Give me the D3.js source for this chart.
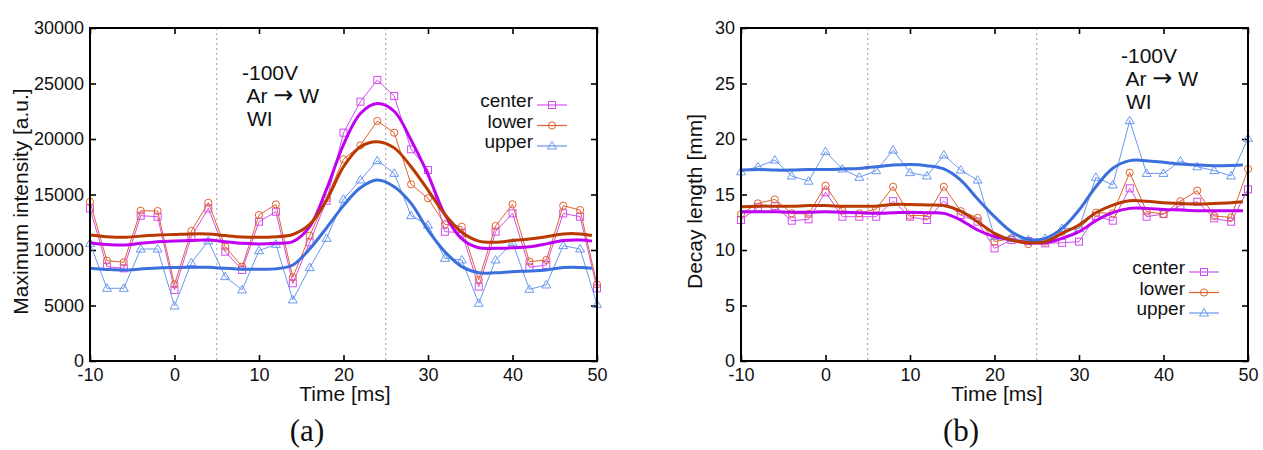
<!DOCTYPE html>
<html>
<head>
<meta charset="utf-8">
<script src="https://cdn.jsdelivr.net/npm/d3@7"></script>
<style>
    body { margin: 0; background: #fff; }
    svg text { font-family: "Liberation Sans", Arial, sans-serif; fill: #111; }
</style>
</head>
<body>
<div id="chart"></div>
<script>
// measurement times [ms]
var times = [-10, -8, -6, -4, -2, 0, 2, 4, 6, 8, 10, 12, 14, 16, 18, 20, 22, 24, 26, 28, 30, 32, 34, 36, 38, 40, 42, 44, 46, 48, 50];
// times where the smooth fit curves were read
var fitTimes = [-10, -8, -6, -4, -2, 0, 2, 4, 6, 8, 10, 12, 14, 16, 18, 20, 22, 24, 26, 28, 30, 32, 34, 36, 38, 40, 42, 44, 46, 48, 49.4];

// (a) maximum intensity [a.u.]
var centerIntensity = [13750, 8500, 8350, 13090, 13000, 6400, 11200, 13750, 9850, 8200, 12550, 13450, 7000, 10690, 14440, 20570, 23360, 25320, 23870, 19070, 17210, 11650, 11560, 6700, 11650, 13300, 8440, 8650, 13300, 13000, 6550];
var lowerIntensity = [14350, 9040, 8890, 13540, 13510, 6900, 11710, 14260, 10300, 8500, 13150, 14110, 7540, 11290, 14650, 18170, 19430, 21620, 20570, 15920, 14660, 12310, 12100, 7300, 12160, 14120, 8950, 9100, 13990, 13600, 6900];
var upperIntensity = [10600, 6550, 6550, 10090, 10090, 4950, 8860, 10810, 7600, 6400, 9940, 10510, 5500, 8410, 11050, 14570, 16310, 18050, 16910, 13090, 12250, 9250, 9100, 5200, 9100, 10660, 6460, 6850, 10390, 10090, 5100];
var centerIntensityFit = [10660, 10500, 10450, 10600, 10750, 10800, 10850, 10900, 10750, 10600, 10550, 10600, 10750, 12100, 15500, 19500, 22300, 23200, 22500, 19900, 16800, 13200, 11000, 10200, 10150, 10200, 10300, 10550, 10850, 10900, 10800];
var lowerIntensityFit = [11350, 11200, 11140, 11250, 11350, 11400, 11450, 11440, 11300, 11180, 11140, 11200, 11400, 12300, 14500, 17500, 19300, 19760, 19200, 17500, 15400, 13200, 11600, 10800, 10700, 10850, 11000, 11200, 11450, 11450, 11300];
var upperIntensityFit = [8350, 8250, 8200, 8280, 8380, 8420, 8440, 8440, 8350, 8270, 8260, 8300, 8650, 10100, 12000, 14000, 15600, 16300, 15700, 14200, 11800, 9850, 8500, 7950, 7950, 8050, 8100, 8200, 8420, 8430, 8350];

// (b) decay length [mm]
var centerDecay = [12.7, 13.85, 13.96, 12.64, 12.76, 15.2, 13.0, 13.0, 13.0, 14.4, 13.0, 12.7, 14.4, 13.15, 12.55, 10.15, 10.9, 10.8, 10.6, 10.65, 10.75, 13.06, 12.64, 15.56, 13.0, 13.24, 14.0, 14.35, 12.85, 12.55, 15.47];
var lowerDecay = [13.24, 14.2, 14.56, 13.3, 13.24, 15.8, 13.54, 13.3, 13.7, 15.7, 13.1, 13.1, 15.7, 13.5, 12.9, 10.75, 11.05, 10.54, 10.75, 11.65, 11.95, 13.36, 13.3, 16.97, 13.45, 13.24, 14.4, 15.35, 13.06, 12.94, 17.3];
var upperDecay = [17.05, 17.5, 18.1, 16.67, 16.2, 18.86, 17.3, 16.55, 17.15, 19.0, 16.97, 16.67, 18.56, 17.2, 16.3, 11.2, 11.05, 10.9, 11.05, 11.95, 11.95, 16.55, 15.86, 21.65, 16.9, 16.9, 18.0, 17.5, 17.15, 16.67, 20.06];
var centerDecayFit = [13.45, 13.45, 13.45, 13.4, 13.4, 13.45, 13.4, 13.35, 13.3, 13.35, 13.4, 13.35, 13.3, 12.7, 11.8, 11.2, 10.9, 10.66, 10.66, 11.05, 11.65, 12.64, 13.36, 13.75, 13.75, 13.66, 13.6, 13.54, 13.54, 13.54, 13.54];
var lowerDecayFit = [13.9, 13.95, 13.95, 13.95, 14.0, 14.0, 13.95, 13.95, 13.95, 14.1, 14.1, 14.05, 14.0, 13.5, 12.55, 11.5, 10.9, 10.66, 10.75, 11.5, 12.25, 13.36, 14.05, 14.44, 14.4, 14.26, 14.2, 14.14, 14.2, 14.26, 14.35];
var upperDecayFit = [17.2, 17.25, 17.2, 17.2, 17.25, 17.25, 17.3, 17.35, 17.5, 17.65, 17.7, 17.6, 17.3, 16.3, 14.6, 13.0, 11.65, 10.96, 11.05, 11.95, 13.6, 15.7, 17.36, 18.05, 18.05, 17.9, 17.75, 17.66, 17.6, 17.62, 17.66];

var seriesNames = ["center", "lower", "upper"];
var xTicks = [-10, 0, 10, 20, 30, 40, 50];
var intensityTicks = [0, 5000, 10000, 15000, 20000, 25000, 30000];
var decayTicks = [0, 5, 10, 15, 20, 25, 30];
var markerLines = [5, 25];

var thinColor = { center: "#d24cf0", lower: "#e0622e", upper: "#6b97ef" };
var thickColor = { center: "#c000f0", lower: "#b83a00", upper: "#3a6fdc" };

var svg = d3.select("#chart")
    .append("svg")
    .attr("width", 1263)
    .attr("height", 450)
    .style("background", "#fff");

function plain(d) { return String(d); }

function drawMarker(g, name, cx, cy) {
    if (name == "center") {
        g.append("rect")
            .attr("x", cx - 3.5).attr("y", cy - 3.5)
            .attr("width", 7).attr("height", 7)
            .attr("fill", "none").attr("stroke", thinColor[name]).attr("stroke-width", 1);
    } else if (name == "lower") {
        g.append("circle")
            .attr("cx", cx).attr("cy", cy).attr("r", 3.6)
            .attr("fill", "none").attr("stroke", thinColor[name]).attr("stroke-width", 1);
    } else {
        g.append("path")
            .attr("d", "M" + cx + "," + (cy - 4.5) + "L" + (cx + 4.5) + "," + (cy + 3) + "L" + (cx - 4.5) + "," + (cy + 3) + "Z")
            .attr("fill", "none").attr("stroke", thinColor[name]).attr("stroke-width", 1);
    }
}

function drawPanel(p) {
    var width = p.right - p.left,
        height = p.bottom - p.top;

    var g = svg.append("g")
        .attr("transform", "translate(" + p.left + "," + p.top + ")");

    var x = d3.scaleLinear().domain([-10, 50]).range([0, width]);
    var y = d3.scaleLinear().domain(p.yDomain).range([height, 0]);

    // dotted guide lines
    g.selectAll(".guide")
        .data(markerLines)
        .enter()
        .append("line")
        .attr("x1", function (d) { return x(d); })
        .attr("x2", function (d) { return x(d); })
        .attr("y1", 0)
        .attr("y2", height)
        .attr("stroke", "#9a9a9a")
        .attr("stroke-width", 1)
        .attr("stroke-dasharray", "2,3");

    // axes with inward ticks
    var bottom = g.append("g")
        .attr("transform", "translate(0," + height + ")")
        .call(d3.axisBottom(x).tickValues(xTicks).tickSize(-6).tickPadding(7).tickFormat(plain));
    var left = g.append("g")
        .call(d3.axisLeft(y).tickValues(p.yTicks).tickSize(-6).tickPadding(6).tickFormat(plain));
    g.append("g")
        .call(d3.axisTop(x).tickValues(xTicks).tickSize(-6).tickFormat(""));
    g.append("g")
        .attr("transform", "translate(" + width + ",0)")
        .call(d3.axisRight(y).tickValues(p.yTicks).tickSize(-6).tickFormat(""));

    g.selectAll(".domain").remove();
    g.selectAll(".tick line").attr("stroke", "#000").attr("stroke-width", 1.6);
    bottom.selectAll("text").style("font-size", "18px").attr("fill", "#111");
    left.selectAll("text").style("font-size", "18px").attr("fill", "#111");

    // measured points
    var thinLine = d3.line()
        .x(function (d) { return x(d[0]); })
        .y(function (d) { return y(d[1]); });
    var fitLine = d3.line()
        .x(function (d) { return x(d[0]); })
        .y(function (d) { return y(d[1]); })
        .curve(d3.curveCatmullRom.alpha(0.5));

    seriesNames.forEach(function (name) {
        var pts = d3.zip(times, p.data[name]);
        g.append("path")
            .attr("d", thinLine(pts))
            .attr("fill", "none")
            .attr("stroke", thinColor[name])
            .attr("stroke-width", 1);
        var mg = g.append("g");
        pts.forEach(function (d) { drawMarker(mg, name, x(d[0]), y(d[1])); });
    });

    // smooth fits
    seriesNames.forEach(function (name) {
        g.append("path")
            .attr("d", fitLine(d3.zip(fitTimes, p.fit[name])))
            .attr("fill", "none")
            .attr("stroke", thickColor[name])
            .attr("stroke-width", 3);
    });

    // frame
    g.append("rect")
        .attr("width", width)
        .attr("height", height)
        .attr("fill", "none")
        .attr("stroke", "#000")
        .attr("stroke-width", 2);

    // legend
    seriesNames.forEach(function (name, i) {
        var ly = p.legendY + i * 20.5;
        svg.append("text")
            .attr("x", p.legendX)
            .attr("y", ly + 2)
            .attr("text-anchor", "end")
            .style("font-size", "19px")
            .text(name);
        svg.append("line")
            .attr("x1", p.legendX + 4).attr("x2", p.legendX + 34)
            .attr("y1", ly).attr("y2", ly)
            .attr("stroke", thinColor[name]).attr("stroke-width", 1.2);
        drawMarker(svg, name, p.legendX + 19, ly);
    });

    // note: -100V / Ar -> W / WI
    svg.append("text")
        .attr("x", p.noteX).attr("y", p.noteY)
        .style("font-size", "21px")
        .text("-100V");
    var arrowLine = svg.append("text")
        .attr("x", p.noteX + 4.5).attr("y", p.noteY + 22.8)
        .style("font-size", "21px");
    arrowLine.append("tspan").text("Ar ");
    arrowLine.append("tspan")
        .style("font-family", "'DejaVu Sans', sans-serif")
        .style("font-size", "24px")
        .text("\u2192");
    arrowLine.append("tspan").text(" W");
    svg.append("text")
        .attr("x", p.noteX + 5).attr("y", p.noteY + 45.6)
        .style("font-size", "21px")
        .text("WI");

    // axis titles
    svg.append("text")
        .attr("transform", "translate(" + p.yTitleX + "," + (p.top + height / 2 + 7) + ") rotate(-90)")
        .attr("dy", "0.35em")
        .attr("text-anchor", "middle")
        .style("font-size", "21px")
        .text(p.yTitle);
    svg.append("text")
        .attr("x", p.timeX)
        .attr("y", 401)
        .attr("text-anchor", "middle")
        .style("font-size", "21px")
        .text("Time [ms]");
    svg.append("text")
        .attr("x", p.labelX)
        .attr("y", 441)
        .attr("text-anchor", "middle")
        .style("font-family", "'Liberation Serif', 'Times New Roman', serif")
        .style("font-size", "31px")
        .text(p.label);
}

drawPanel({
    left: 90, right: 597, top: 28, bottom: 361,
    yDomain: [0, 30000], yTicks: intensityTicks,
    data: { center: centerIntensity, lower: lowerIntensity, upper: upperIntensity },
    fit: { center: centerIntensityFit, lower: lowerIntensityFit, upper: upperIntensityFit },
    legendX: 533, legendY: 105,
    noteX: 242, noteY: 80,
    yTitle: "Maximum intensity [a.u.]", yTitleX: 21,
    timeX: 345, label: "(a)", labelX: 307
});

drawPanel({
    left: 741, right: 1248, top: 28, bottom: 361,
    yDomain: [0, 30], yTicks: decayTicks,
    data: { center: centerDecay, lower: lowerDecay, upper: upperDecay },
    fit: { center: centerDecayFit, lower: lowerDecayFit, upper: upperDecayFit },
    legendX: 1185, legendY: 272,
    noteX: 1121, noteY: 63,
    yTitle: "Decay length [mm]", yTitleX: 695,
    timeX: 997, label: "(b)", labelX: 961
});
</script>
</body>
</html>
